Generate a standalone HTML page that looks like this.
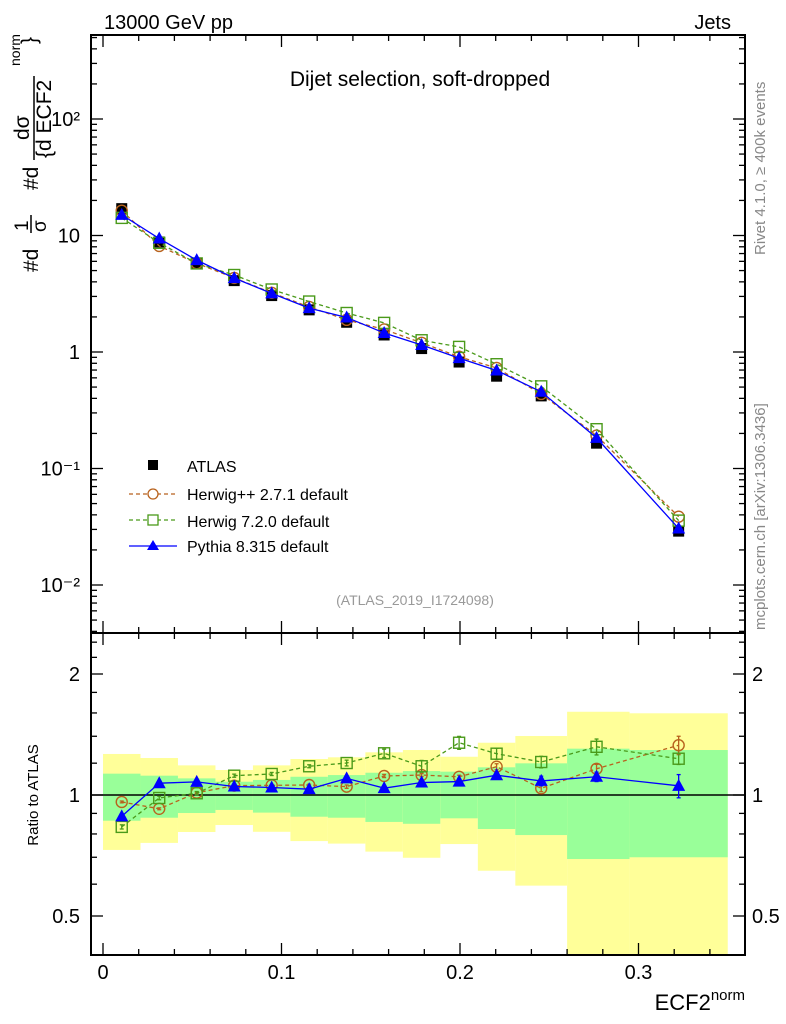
<!DOCTYPE html>
<html><head><meta charset="utf-8"><style>
body{margin:0;background:#fff;}
svg{display:block;font-family:"Liberation Sans",sans-serif;}
</style></head><body>
<svg id="c" width="786" height="1024" viewBox="0 0 786 1024">
<g id="bands"></g>
<g id="frames"></g>
<g id="series"></g>
<text x="104" y="29" font-size="20">13000 GeV pp</text>
<text x="731" y="29" font-size="20" text-anchor="end">Jets</text>
<text x="420" y="86" font-size="21" text-anchor="middle">Dijet selection, soft-dropped</text>
<text x="415" y="605" font-size="14" fill="#999" text-anchor="middle">(ATLAS_2019_I1724098)</text>
<text transform="translate(765,255) rotate(-90)" font-size="15" fill="#888">Rivet 4.1.0, ≥ 400k events</text>
<text transform="translate(765,630) rotate(-90)" font-size="15" fill="#888">mcplots.cern.ch [arXiv:1306.3436]</text>
<g font-size="21">
<text transform="translate(38,272) rotate(-90)">#d</text>
<text transform="translate(28,231) rotate(-90)" font-size="19">1</text>
<line x1="31" y1="233" x2="31" y2="215" stroke="#000" stroke-width="1.5"/>
<text transform="translate(46,232) rotate(-90)" font-size="19">σ</text>
<text transform="translate(38,190) rotate(-90)">#d</text>
<text transform="translate(29,140) rotate(-90)">dσ</text>
<line x1="34" y1="160" x2="34" y2="76" stroke="#000" stroke-width="1.5"/>
<text transform="translate(51,158) rotate(-90)">{d ECF2</text>
<text transform="translate(20,66) rotate(-90)" font-size="14">norm</text>
<text transform="translate(36,44) rotate(-90)" font-size="21">}</text>
</g>
<text transform="translate(38,795) rotate(-90)" font-size="15" text-anchor="middle">Ratio to ATLAS</text>
<text x="745" y="1010" font-size="22" text-anchor="end">ECF2<tspan font-size="15" dy="-10">norm</tspan></text>
<g font-size="16">
<g><rect x="148" y="460" width="10" height="10" fill="#000"/><text x="187" y="472">ATLAS</text></g>
<g><line x1="129" y1="494" x2="177" y2="494" stroke="#b8621d" stroke-dasharray="4,3" stroke-width="1.3"/><circle cx="153" cy="494" r="5" fill="#fff" stroke="#b8621d" stroke-width="1.3"/><text x="187" y="500">Herwig++ 2.7.1 default</text></g>
<g><line x1="129" y1="520" x2="177" y2="520" stroke="#4a9a1a" stroke-dasharray="4,3" stroke-width="1.3"/><rect x="148" y="515" width="10" height="10" fill="#fff" stroke="#4a9a1a" stroke-width="1.3"/><text x="187" y="527">Herwig 7.2.0 default</text></g>
<g><line x1="129" y1="546" x2="177" y2="546" stroke="#0000ff" stroke-width="1.3"/><polygon points="153,540 159,550 147,550" fill="#0000ff"/><text x="187" y="552">Pythia 8.315 default</text></g>
</g>
</svg>
<script>
const binEdges=[0,0.021,0.042,0.063,0.084,0.105,0.126,0.147,0.168,0.189,0.21,0.231,0.26,0.295,0.35];
const xCenters=[0.0105,0.0315,0.0525,0.0735,0.0945,0.1155,0.1365,0.1575,0.1785,0.1995,0.2205,0.2455,0.2765,0.3225];
const atlas=[17,8.8,5.7,4.1,3.05,2.3,1.8,1.4,1.07,0.82,0.62,0.42,0.165,0.029];
const ratioHpp=[0.961,0.924,1.013,1.055,1.057,1.059,1.049,1.115,1.121,1.110,1.176,1.039,1.162,1.330];
const ratioH7=[0.833,0.983,1.01,1.117,1.128,1.179,1.201,1.270,1.179,1.349,1.267,1.208,1.318,1.231];
const ratioPy=[0.885,1.07,1.078,1.05,1.044,1.034,1.1,1.04,1.074,1.08,1.12,1.084,1.11,1.054];
const errH7=[0.01,0.01,0.01,0.01,0.01,0.01,0.02,0.03,0.04,0.05,0.04,0.04,0.06,0.04];
const errHpp=[0.005,0.005,0.005,0.005,0.005,0.005,0.01,0.01,0.01,0.01,0.02,0.02,0.03,0.07];
const errPy=[0.005,0.005,0.005,0.005,0.005,0.005,0.01,0.01,0.01,0.01,0.02,0.03,0.03,0.07];
const yellowHi=[1.265,1.236,1.185,1.154,1.185,1.229,1.241,1.277,1.294,1.245,1.349,1.402,1.611,1.597];
const yellowLo=[0.73,0.76,0.809,0.842,0.81,0.768,0.757,0.723,0.698,0.755,0.648,0.595,0.3,0.3];
const greenHi=[1.13,1.117,1.10,1.079,1.09,1.11,1.121,1.136,1.147,1.143,1.172,1.199,1.304,1.294];
const greenLo=[0.863,0.878,0.902,0.918,0.904,0.883,0.878,0.857,0.848,0.875,0.823,0.795,0.693,0.70];
const xTicks=[0,0.1,0.2,0.3];
const yTicksMain=[{v:100,t:"10²"},{v:10,t:"10"},{v:1,t:"1"},{v:0.1,t:"10⁻¹"},{v:0.01,t:"10⁻²"}];
const yTicksRatio=[{v:2,t:"2"},{v:1,t:"1"},{v:0.5,t:"0.5"}];

const NS="http://www.w3.org/2000/svg";
const L=91,R=745,T=35,MB=633,RB=955;
const X=v=>103+v*1785;
const Y=v=>352-Math.log10(v)*116.5;
const YR=v=>795-Math.log2(v)*121;
function mk(tag,attrs,parent){const e=document.createElementNS(NS,tag);for(const k in attrs)e.setAttribute(k,attrs[k]);parent.appendChild(e);return e;}
const svg=document.getElementById('c');
const bands=document.getElementById('bands'),frames=document.getElementById('frames'),series=document.getElementById('series');
for(let i=0;i<xCenters.length;i++){
  const x0=X(binEdges[i]),x1=X(binEdges[i+1]);
  let yt=Math.max(YR(yellowHi[i]),MB),yb=Math.min(YR(yellowLo[i]),RB);
  const y=mk('rect',{x:x0,y:yt,width:x1-x0,height:yb-yt,fill:'#ffff99'},bands);
  
  
  const g=mk('rect',{x:x0,y:YR(greenHi[i]),width:x1-x0,height:YR(greenLo[i])-YR(greenHi[i]),fill:'#99ff99'},bands);
  
  
}
[[T,MB],[MB,RB]].forEach(([t,b],k)=>{
  const r=mk('rect',{x:L,y:t,width:R-L,height:b-t,fill:'none',stroke:'#000','stroke-width':2},frames);
  
  
  for(let v=0;v<=0.36;v+=0.02){
    const vv=Math.round(v*100)/100;const major=Math.abs(vv*10-Math.round(vv*10))<1e-6;const len=major?12:6;const x=X(vv);
    if(x>R)continue;
    mk('line',{x1:x,y1:t,x2:x,y2:t+len,stroke:'#000','stroke-width':1.3},frames);
    mk('line',{x1:x,y1:b,x2:x,y2:b-len,stroke:'#000','stroke-width':1.3},frames);
  }
});
for(let d=-3;d<=2;d++){for(let m=1;m<10;m++){const v=m*Math.pow(10,d);const y=Y(v);if(y<T||y>MB)continue;const len=m==1?12:6;
  mk('line',{x1:L,y1:y,x2:L+len,y2:y,stroke:'#000','stroke-width':1.3},frames);
  mk('line',{x1:R,y1:y,x2:R-len,y2:y,stroke:'#000','stroke-width':1.3},frames);}}
yTicksMain.forEach(o=>{const t=mk('text',{x:80,y:Y(o.v)+7,'font-size':20,'text-anchor':'end'},svg);t.textContent=o.t;
  
  });
[0.4,0.5,0.6,0.7,0.8,0.9,1,1.2,1.4,1.6,1.8,2,2.2,2.4].forEach(v=>{const y=YR(v);if(y<MB||y>RB)return;const len=(v==1||v==2||v==0.5)?12:6;
  mk('line',{x1:L,y1:y,x2:L+len,y2:y,stroke:'#000','stroke-width':1.3},frames);
  mk('line',{x1:R,y1:y,x2:R-len,y2:y,stroke:'#000','stroke-width':1.3},frames);});
yTicksRatio.forEach(o=>{[80,752].forEach(x=>{const t=mk('text',{x:x,y:YR(o.v)+7,'font-size':20,'text-anchor':x<100?'end':'start'},svg);t.textContent=o.t;
  
  });});
xTicks.forEach(v=>{const t=mk('text',{x:X(v),y:979,'font-size':20,'text-anchor':'middle'},svg);t.textContent=String(v);
  
  });
mk('line',{x1:L,y1:YR(1),x2:R,y2:YR(1),stroke:'#000','stroke-width':1.5},frames);

function marker(kind,x,y,col,g){
  if(kind=='c')mk('circle',{cx:x,cy:y,r:5.5,fill:'none',stroke:col,'stroke-width':1.4},g);
  else if(kind=='s')mk('rect',{x:x-5.5,y:y-5.5,width:11,height:11,fill:'none',stroke:col,'stroke-width':1.4},g);
  else if(kind=='t')mk('polygon',{points:`${x},${y-7} ${x+6.5},${y+5} ${x-6.5},${y+5}`,fill:col},g);
}
function drawSeries(name,ratio,err,col,dash,kind){
  const g=mk('g',{},series);
  
  
  const mp=xCenters.map((x,i)=>X(x)+','+Y(atlas[i]*ratio[i])).join(' ');
  const rp=xCenters.map((x,i)=>X(x)+','+YR(ratio[i])).join(' ');
  const a={fill:'none',stroke:col,'stroke-width':1.3};if(dash)a['stroke-dasharray']='4,3';
  mk('polyline',Object.assign({points:mp},a),g);
  mk('polyline',Object.assign({points:rp},a),g);
  xCenters.forEach((x,i)=>{
    marker(kind,X(x),Y(atlas[i]*ratio[i]),col,g);
    const y1=YR(ratio[i]+err[i]),y2=YR(ratio[i]-err[i]);
    mk('line',{x1:X(x),y1:y1,x2:X(x),y2:y2,stroke:col,'stroke-width':1.3},g);
    mk('line',{x1:X(x)-2,y1:y1,x2:X(x)+2,y2:y1,stroke:col,'stroke-width':1.3},g);
    mk('line',{x1:X(x)-2,y1:y2,x2:X(x)+2,y2:y2,stroke:col,'stroke-width':1.3},g);
    marker(kind,X(x),YR(ratio[i]),col,g);
  });
}
const dg=mk('g',{},series);


xCenters.forEach((x,i)=>mk('rect',{x:X(x)-5.5,y:Y(atlas[i])-5.5,width:11,height:11,fill:'#000'},dg));
drawSeries('herwigpp-series',ratioHpp,errHpp,'#b8621d',true,'c');
drawSeries('herwig7-series',ratioH7,errH7,'#4a9a1a',true,'s');
drawSeries('pythia-series',ratioPy,errPy,'#0000ff',false,'t');
</script>
</body></html>
